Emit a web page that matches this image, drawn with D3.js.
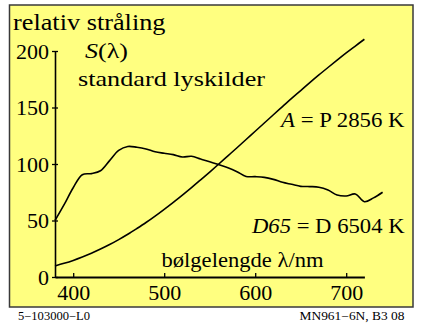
<!DOCTYPE html>
<html>
<head>
<meta charset="utf-8">
<script src="https://cdn.jsdelivr.net/npm/d3@7"></script>
<style>
  body { margin: 0; background: #fff; }
  svg { display: block; }
</style>
</head>
<body>
<script>
const width = 424;
const height = 323;
const serif = "'Liberation Serif'";

// wavelengths in nm
const lambdaA = d3.range(380, 721, 10);
const lambdaD65 = d3.range(380, 741, 10);

// illuminant A (P 2856 K), relative
const valuesA = [9.8, 12.1, 14.7, 17.7, 21.0, 24.7, 28.7, 33.1, 37.8, 42.9,
  48.2, 53.9, 59.9, 66.1, 72.5, 79.1, 86.0, 92.9, 100.0, 107.2,
  114.4, 121.7, 129.0, 136.3, 143.6, 150.8, 158.0, 165.0, 172.0, 178.8,
  185.4, 191.9, 198.3, 204.4, 210.4];

// illuminant D65 (D 6504 K), relative
const valuesD65 = [50, 64, 79, 90.5, 91.5, 94, 103, 112, 115.5, 114.8,
  113.3, 110.8, 109.5, 108.3, 106.2, 106.8, 104.4, 102, 99.4, 96.7,
  93.2, 89, 88.8, 88.2, 86.4, 83.8, 82, 80.2, 80, 79.5,
  77, 72.6, 71.7, 73.5, 66.6, 70, 75];

const yTicks = [0, 50, 100, 150, 200];
const xTicks = [400, 500, 600, 700];

const x = d3.scaleLinear().domain([380, 720]).range([55, 364.4]);
const y = d3.scaleLinear().domain([0, 200]).range([277, 51]);

const svg = d3.select('body')
  .append('svg')
    .attr('width', width)
    .attr('height', height)
    .attr('viewBox', [0, 0, width, height].join(' '))
    .style('font-family', serif);

// yellow frame
svg.append('rect')
  .attr('x', 9.5)
  .attr('y', 5)
  .attr('width', 403.5)
  .attr('height', 302)
  .attr('fill', '#ffff80')
  .attr('stroke', '#3a3a3a')
  .attr('stroke-width', 1.5);

// axes
const yAxis = d3.axisLeft(y)
  .tickValues(yTicks)
  .tickSizeInner(3)
  .tickSizeOuter(0)
  .tickPadding(6);

const xAxis = d3.axisBottom(x)
  .tickValues(xTicks)
  .tickSizeInner(3)
  .tickSizeOuter(0);

const gy = svg.append('g').attr('transform', 'translate(55,0)').call(yAxis);
gy.select('.domain').attr('stroke', '#000').attr('stroke-width', 1.6);
gy.selectAll('.tick line').attr('x1', -3).attr('x2', 3).attr('stroke', '#000').attr('stroke-width', 1.3);
gy.selectAll('.tick text')
  .attr('x', -6)
  .attr('dy', '0.34em')
  .attr('fill', '#000')
  .style('font-family', serif)
  .style('font-size', '22px');

const gx = svg.append('g').attr('transform', 'translate(0,277)').call(xAxis);
gx.select('.domain').attr('stroke', '#000').attr('stroke-width', 2);
gx.selectAll('.tick line').attr('y1', -4).attr('y2', 1).attr('stroke', '#000').attr('stroke-width', 1.3);
gx.selectAll('.tick text')
  .attr('y', 23)
  .attr('dy', 0)
  .attr('fill', '#000')
  .style('font-family', serif)
  .style('font-size', '22px');

// curves
const line = d3.line()
  .x(d => x(d[0]))
  .y(d => y(d[1]))
  .curve(d3.curveCatmullRom.alpha(0.5));

svg.append('path')
  .datum(d3.zip(lambdaA, valuesA))
  .attr('fill', 'none')
  .attr('stroke', '#000')
  .attr('stroke-width', 1.6)
  .attr('d', line);

svg.append('path')
  .datum(d3.zip(lambdaD65, valuesD65))
  .attr('fill', 'none')
  .attr('stroke', '#000')
  .attr('stroke-width', 1.6)
  .attr('d', line);

// labels
const label = (x0, x1, yb, size, parts) => {
  const t = svg.append('text')
    .attr('x', x0)
    .attr('y', yb)
    .attr('fill', '#000')
    .attr('textLength', x1 - x0)
    .attr('lengthAdjust', 'spacingAndGlyphs')
    .style('font-family', serif)
    .style('font-size', size + 'px');
  parts.forEach(p => {
    t.append('tspan')
      .style('font-style', p[1] ? 'italic' : 'normal')
      .text(p[0]);
  });
  return t;
};

label(13, 165.5, 29.5, 23, [['relativ stråling']]);
label(85, 128, 57.5, 22, [['S', true], ['(λ)']]);
label(78, 265, 86, 22, [['standard lyskilder']]);
label(281, 404.5, 126.5, 22, [['A', true], [' = P 2856 K']]);
label(252, 404.5, 233, 22, [['D65', true], [' = D 6504 K']]);
label(161.5, 323.5, 266.5, 22, [['bølgelengde λ/nm']]);

label(18, 90, 319.5, 11.5, [['5−103000−L0']]);
label(299.5, 404.5, 319.5, 11.5, [['MN961−6N, B3  08']]);
</script>
</body>
</html>
